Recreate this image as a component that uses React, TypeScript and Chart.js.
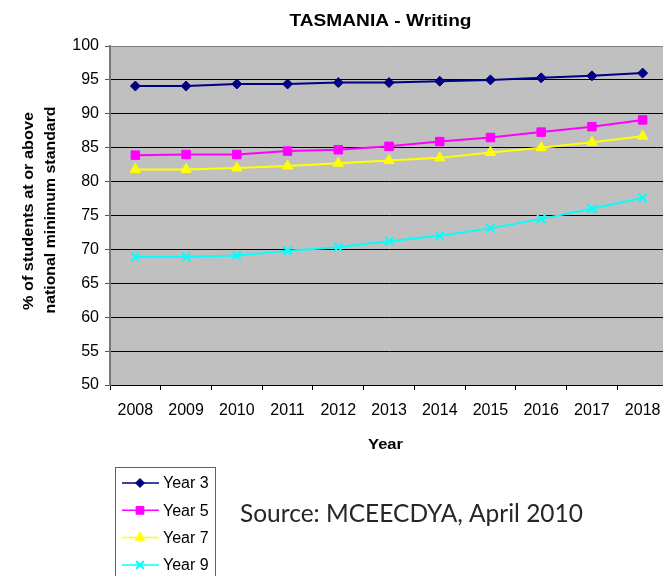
import React, { useEffect, useRef } from "react";
import { Chart, registerables } from "chart.js";
import { drawPoint } from "chart.js/helpers";

Chart.register(...registerables);

const years = ["2008", "2009", "2010", "2011", "2012", "2013", "2014", "2015", "2016", "2017", "2018"];
const year3 = [94.1, 94.1, 94.4, 94.4, 94.6, 94.6, 94.8, 95.0, 95.3, 95.6, 96.0];
const year5 = [83.9, 84.0, 84.0, 84.5, 84.7, 85.2, 85.9, 86.5, 87.3, 88.1, 89.1];
const year7 = [81.8, 81.8, 82.0, 82.3, 82.7, 83.1, 83.5, 84.3, 85.0, 85.8, 86.7];
const year9 = [68.9, 68.9, 69.1, 69.8, 70.3, 71.2, 72.0, 73.1, 74.5, 76.0, 77.6];
const seriesNames = ["Year 3", "Year 5", "Year 7", "Year 9"];
const yMin = 50;
const yMax = 100;
const yStep = 5;

const chartTitle = "TASMANIA - Writing";
const xTitle = "Year";
const yTitleLines = ["% of students at or above", "national minimum standard"];
const sourceText = "Source: MCEECDYA, April 2010";

const SANS = "'Liberation Sans', Arial, sans-serif";

function fitText(ctx: CanvasRenderingContext2D, text: string, x: number, y: number, font: string, width: number, color: string, rotate = false) {
  ctx.save();
  ctx.font = font;
  ctx.fillStyle = color;
  ctx.textAlign = "center";
  ctx.textBaseline = "alphabetic";
  const w = ctx.measureText(text).width;
  ctx.translate(x, y);
  if (rotate) ctx.rotate(-Math.PI / 2);
  ctx.scale(width / w, 1);
  ctx.fillText(text, 0, 0);
  ctx.restore();
}

const decorPlugin = {
  id: "decor",
  beforeDraw(chart: any) {
    const { ctx, chartArea } = chart;
    ctx.save();
    ctx.fillStyle = "#C0C0C0";
    ctx.fillRect(chartArea.left, chartArea.top, chartArea.right - chartArea.left, chartArea.bottom - chartArea.top);
    ctx.restore();
  },
  afterDraw(chart: any) {
    const { ctx } = chart;
    fitText(ctx, chartTitle, 380.5, 26, `bold 17px ${SANS}`, 182, "#000");
    fitText(ctx, xTitle, 385.5, 449, `bold 15px ${SANS}`, 35, "#000");
    fitText(ctx, yTitleLines[0], 33.3, 211, `bold 15px ${SANS}`, 198, "#000", true);
    fitText(ctx, yTitleLines[1], 55, 210, `bold 15px ${SANS}`, 207, "#000", true);
    fitText(ctx, sourceText, 411.5, 522, `25px Lato, 'Open Sans', sans-serif`, 343, "#262626");

    // legend
    ctx.save();
    ctx.fillStyle = "#fff";
    ctx.fillRect(115.5, 467.5, 100, 130);
    ctx.strokeStyle = "#606060";
    ctx.lineWidth = 1;
    ctx.strokeRect(115.5, 467.5, 100, 130);
    chart.data.datasets.forEach((ds: any, i: number) => {
      const y = 483 + i * 27.3;
      ctx.strokeStyle = ds.borderColor;
      ctx.lineWidth = 1.5;
      ctx.beginPath();
      ctx.moveTo(122, y);
      ctx.lineTo(159, y);
      ctx.stroke();
      ctx.fillStyle = ds.pointBackgroundColor;
      ctx.strokeStyle = ds.pointBorderColor;
      ctx.lineWidth = ds.pointBorderWidth;
      drawPoint(ctx, { pointStyle: ds.pointStyle, radius: ds.pointRadius - 0.5, borderWidth: ds.pointBorderWidth, rotation: 0 }, 140, y);
      ctx.fillStyle = "#000";
      ctx.font = `16px ${SANS}`;
      ctx.textAlign = "left";
      ctx.textBaseline = "middle";
      ctx.fillText(ds.label, 163, y + 1);
    });
    ctx.restore();
  },
};

function mk(label: string, data: number[], color: string, style: string, radius: number, bw: number) {
  return {
    label,
    data,
    borderColor: color,
    backgroundColor: color,
    borderWidth: 2,
    pointStyle: style,
    pointRadius: radius,
    pointBackgroundColor: color,
    pointBorderColor: color,
    pointBorderWidth: bw,
    tension: 0,
  };
}

export default function App() {
  const ref = useRef<HTMLCanvasElement | null>(null);
  useEffect(() => {
    if (!ref.current) return;
    const chart = new Chart(ref.current, {
      type: "line",
      data: {
        labels: years,
        datasets: [
          mk(seriesNames[0], year3, "#000080", "rectRot", 5, 1),
          mk(seriesNames[1], year5, "#FF00FF", "rect", 6, 1),
          mk(seriesNames[2], year7, "#FFFF00", "triangle", 6, 1),
          mk(seriesNames[3], year9, "#00FFFF", "crossRot", 6, 2),
        ],
      },
      options: {
        responsive: false,
        animation: false,
        devicePixelRatio: 1,
        layout: { padding: { top: 46, right: 12, bottom: 0, left: 0 } },
        plugins: { legend: { display: false }, title: { display: false }, tooltip: { enabled: false } },
        scales: {
          x: {
            offset: true,
            afterFit: (s: any) => { s.height = 191; },
            grid: { display: true, drawOnChartArea: false, drawTicks: true, tickLength: 5, offset: true, color: "#000" },
            border: { display: true, color: "#000", width: 1 },
            ticks: { color: "#000", font: { family: SANS, size: 16 }, padding: 11, maxRotation: 0, autoSkip: false },
          },
          y: {
            min: yMin,
            max: yMax,
            afterFit: (s: any) => { s.width = 110; },
            grid: {
              color: (c: any) => (c.tick && c.tick.value === yMax ? "#808080" : "#000"),
              tickColor: "#555",
              tickLength: 5,
              lineWidth: 1,
            },
            border: { display: true, color: "#777", width: 2 },
            ticks: { stepSize: yStep, color: "#000", font: { family: SANS, size: 16 }, padding: 6 },
          },
        },
      },
      plugins: [decorPlugin],
    });
    return () => chart.destroy();
  }, []);
  return (
    <div style={{ position: "fixed", left: 0, top: 0, width: 663, height: 576, overflow: "hidden", background: "#fff" }}>
      <canvas ref={ref} width={680} height={576} style={{ display: "block", width: 680, height: 576 }} />
    </div>
  );
}
